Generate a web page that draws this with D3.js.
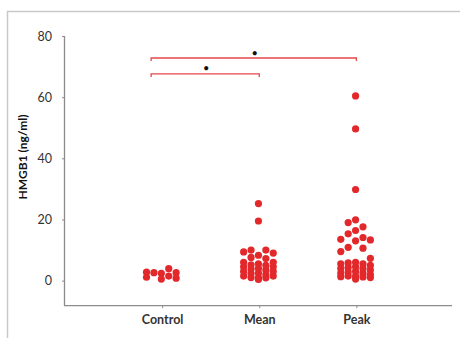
<!DOCTYPE html>
<html>
<head>
<meta charset="utf-8">
<script src="https://cdn.jsdelivr.net/npm/d3@7/dist/d3.min.js"></script>
<style>
  html, body { margin: 0; padding: 0; background: #fff; }
  svg { display: block; font-family: Lato, 'Open Sans', sans-serif; }
</style>
</head>
<body>
<div id="chart"></div>
<script>
/* ---- Data ---- */
const categories = ['Control', 'Mean', 'Peak'];

// each group: five swarm columns (left to right), values in ng/ml
const controlCols = [
  [2.75, 1.1],
  [2.6],
  [2.4, 0.5],
  [3.9, 1.5],
  [2.6, 0.8]
];
const meanCols = [
  [9.4, 6.0, 4.5, 3.0, 1.5],
  [10.0, 7.6, 5.2, 3.8, 2.3, 1.0],
  [25.2, 19.5, 8.3, 5.5, 4.0, 2.5, 1.0, 0.4],
  [10.0, 7.2, 5.0, 3.5, 2.0, 0.9],
  [9.0, 6.0, 4.5, 3.0, 1.5]
];
const peakCols = [
  [13.5, 9.5, 5.5, 4.0, 2.5, 1.3],
  [19.0, 15.3, 10.9, 5.8, 4.3, 2.8, 1.5],
  [60.4, 49.6, 29.8, 19.9, 16.4, 13.0, 6.0, 4.5, 3.0, 1.5, 0.5],
  [17.6, 14.1, 10.6, 5.5, 4.0, 2.5, 1.2],
  [13.3, 7.3, 5.0, 3.5, 2.0, 1.0]
];
const groupCols = [controlCols, meanCols, peakCols];

const yTicks = [0, 20, 40, 60, 80];
const yLabel = 'HMGB1 (ng/ml)';

// significance brackets: from category, to category, level (ng/ml)
const brackets = [
  { from: 'Control', to: 'Peak', level: 72.8, mark: '•' },
  { from: 'Control', to: 'Mean', level: 67.6, mark: '•' }
];

/* ---- Layout ---- */
const W = 460, H = 338;
const red = '#e3282c';

const svg = d3.select('#chart').append('svg')
  .attr('width', W)
  .attr('height', H);

// outer frame (only top and left edges visible)
svg.append('path')
  .attr('d', `M7.5,${H} V11.5 H${W}`)
  .attr('fill', 'none')
  .attr('stroke', '#c9c9c9')
  .attr('stroke-width', 1.5);

const x = d3.scalePoint()
  .domain(categories)
  .range([65, 453.5])
  .padding(1);

const y = d3.scaleLinear()
  .domain([-8.2, 80])
  .range([305.7, 36]);

const slot = d3.scaleLinear().domain([-2, 2]).range([-15.6, 14]);

const axisColor = '#8c8c8c';

// y axis
const yAxis = svg.append('g')
  .attr('transform', 'translate(64.5,0)')
  .call(d3.axisLeft(y).tickValues(yTicks).tickSize(2.5).tickPadding(10).tickSizeOuter(0));
yAxis.select('.domain').remove();
yAxis.append('line')
  .attr('x1', 0).attr('x2', 0)
  .attr('y1', y(80)).attr('y2', y(-8.2))
  .attr('stroke', axisColor).attr('stroke-width', 1.3);
yAxis.selectAll('.tick line').attr('stroke', axisColor);
yAxis.selectAll('.tick text')
  .attr('fill', '#333')
  .attr('font-size', '12.5px')
  .attr('font-family', 'Lato, sans-serif');

// x axis
const xAxis = svg.append('g')
  .attr('transform', `translate(0,${y(-8.2)})`)
  .call(d3.axisBottom(x).tickSize(2.5).tickPadding(7).tickSizeOuter(0));
xAxis.select('.domain').remove();
xAxis.append('line')
  .attr('x1', 64).attr('x2', 452)
  .attr('stroke', axisColor).attr('stroke-width', 1.3);
xAxis.selectAll('.tick line').attr('stroke', axisColor);
xAxis.selectAll('.tick text')
  .attr('fill', '#333')
  .attr('font-size', '12.5px')
  .attr('font-weight', 'bold')
  .attr('font-family', 'Lato, sans-serif');

// y label
svg.append('text')
  .attr('transform', `translate(27,157) rotate(-90)`)
  .attr('text-anchor', 'middle')
  .attr('font-size', '12px')
  .attr('font-weight', 'bold')
  .attr('fill', '#111')
  .text(yLabel);

// points
const points = [];
groupCols.forEach((cols, gi) => {
  cols.forEach((vals, ci) => {
    vals.forEach(v => points.push({ cat: categories[gi], col: ci - 2, value: v }));
  });
});

svg.append('g').selectAll('circle')
  .data(points)
  .join('circle')
  .attr('cx', d => x(d.cat) + (d.value > 18 && d.col === 0 ? slot(0) : slot(d.col)))
  .attr('cy', d => y(d.value))
  .attr('r', 3.6)
  .attr('fill', red);

// brackets
const bg = svg.append('g');
brackets.forEach(b => {
  const x0 = x(b.from) - 11;
  const x1 = x(b.to);
  const yy = y(b.level);
  bg.append('path')
    .attr('d', `M${x0},${yy + 3} V${yy} H${x1} V${yy + 3}`)
    .attr('fill', 'none')
    .attr('stroke', '#e5474a')
    .attr('stroke-width', 1.3);
  bg.append('text')
    .attr('x', (x0 + x1) / 2 + 1)
    .attr('y', yy - 6)
    .attr('text-anchor', 'middle')
    .attr('dominant-baseline', 'central')
    .attr('font-size', '11px')
    .attr('fill', '#111')
    .text(b.mark);
});
</script>
</body>
</html>
